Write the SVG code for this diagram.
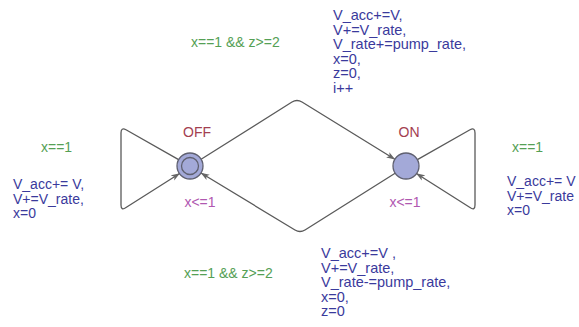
<svg xmlns="http://www.w3.org/2000/svg" width="579" height="327" viewBox="0 0 579 327">
<defs>
<marker id="arr" viewBox="0 0 10 8" refX="9.5" refY="4" markerWidth="9" markerHeight="7" markerUnits="userSpaceOnUse" orient="auto">
<path d="M0,0.5 L10,4 L0,7.5 L2.5,4 Z" fill="#666"/>
</marker>
<style>
.e{fill:none;stroke:#5a5a5a;stroke-width:1.3;stroke-linejoin:round;stroke-linecap:round}
.n{fill:#a3a9d8;stroke:#5f6070;stroke-width:1.3}
.t{font-family:"Liberation Sans",Arial,sans-serif;font-size:14.5px}
.s{font-size:14px}
.b{fill:#3a3a9c}
.g{fill:#55a055;font-size:14px}
.m{fill:#b058b0;font-size:14px}
.l{fill:#a34050;font-size:14px}
</style>
</defs>
<rect width="579" height="327" fill="#ffffff"/>
<g id="connectors">
<path class="e" d="M178.6,159.6 L126,129.8 Q121,127 121,133 L121,205 Q121,211 126,207.5 L179.6,173.5" marker-end="url(#arr)"/>
<path class="e" d="M417.4,159.6 L470,129.8 Q475,127 475,133 L475,205 Q475,211 470,207.5 L416.4,173.5" marker-end="url(#arr)"/>
<path class="e" d="M201.1,159.3 L292,102 Q297,99 302,102 L394.8,159.3" marker-end="url(#arr)"/>
<path class="e" d="M395.1,173.2 L305,230 Q300,233 295,230 L201,173" marker-end="url(#arr)"/>
</g>
<g id="OFF">
<circle class="n" cx="190" cy="166" r="13"/>
<circle class="n" cx="190" cy="166" r="8.5"/>
<text class="t l" x="197" y="137" text-anchor="middle">OFF</text>
<text class="t m" x="200" y="207" text-anchor="middle">x&lt;=1</text>
</g>
<g id="ON">
<circle class="n" cx="406" cy="166" r="13"/>
<text class="t l" x="409" y="137" text-anchor="middle">ON</text>
<text class="t m" x="405" y="207" text-anchor="middle">x&lt;=1</text>
</g>
<g id="labels">
<text class="t g" x="41" y="152">x==1</text>
<text class="t b s"><tspan x="13" y="189">V_acc+= V,</tspan><tspan x="13" y="203.5">V+=V_rate,</tspan><tspan x="13" y="218">x=0</tspan></text>
<text class="t g" x="512" y="152">x==1</text>
<text class="t b s"><tspan x="507" y="186">V_acc+= V</tspan><tspan x="507" y="200.5">V+=V_rate</tspan><tspan x="507" y="215">x=0</tspan></text>
<text class="t g" x="191" y="47">x==1 &amp;&amp; z&gt;=2</text>
<text class="t b"><tspan x="333" y="20">V_acc+=V,</tspan><tspan x="333" y="34.5">V+=V_rate,</tspan><tspan x="333" y="49">V_rate+=pump_rate,</tspan><tspan x="333" y="63.5">x=0,</tspan><tspan x="333" y="78">z=0,</tspan><tspan x="333" y="92.5">i++</tspan></text>
<text class="t g" x="184" y="278">x==1 &amp;&amp; z&gt;=2</text>
<text class="t b"><tspan x="321" y="258">V_acc+=V ,</tspan><tspan x="321" y="272.5">V+=V_rate,</tspan><tspan x="321" y="287">V_rate-=pump_rate,</tspan><tspan x="321" y="301.5">x=0,</tspan><tspan x="321" y="316">z=0</tspan></text>
</g>
</svg>
